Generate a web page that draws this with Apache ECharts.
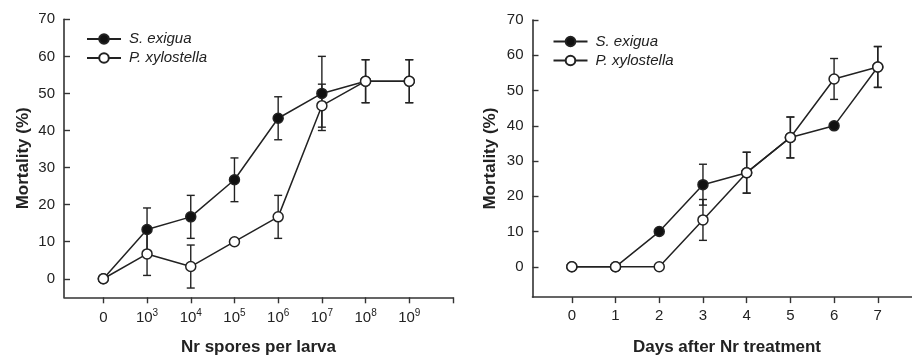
<!DOCTYPE html>
<html>
<head>
<meta charset="utf-8">
<script src="https://cdn.jsdelivr.net/npm/echarts@6/dist/echarts.min.js"></script>
<style>
html,body{margin:0;padding:0;background:#fff;}
#chart{width:912px;height:356px;}
</style>
</head>
<body>
<div id="chart"></div>
<script>
// ---- data ----
var doseExponents = ['', '3', '4', '5', '6', '7', '8', '9']; // tick labels: 0, 10^3 ... 10^9
var dosePositions = [0, 1, 2, 3, 4, 5, 6, 7];
var sExiguaDose = [0, 13.3, 16.7, 26.7, 43.3, 50.0, 53.3, 53.3];
var sExiguaDoseErr = [0, 5.8, 5.8, 5.9, 5.8, 10.0, 5.8, 5.8];
var pXylDose = [0, 6.7, 3.3, 10.0, 16.7, 46.7, 53.3, 53.3];
var pXylDoseErr = [0, 5.8, 5.8, 0, 5.8, 5.8, 5.8, 5.8];

var dayLabels = ['0', '1', '2', '3', '4', '5', '6', '7'];
var days = [0, 1, 2, 3, 4, 5, 6, 7];
var sExiguaDays = [0, 0, 10.0, 23.3, 26.7, 36.7, 40.0, 56.7];
var sExiguaDaysErr = [0, 0, 0, 5.8, 5.8, 5.8, 0, 5.8];
var pXylDays = [0, 0, 0, 13.3, 26.7, 36.7, 53.3, 56.7];
var pXylDaysErr = [0, 0, 0, 5.8, 5.8, 5.8, 5.8, 5.8];

var yTicks = [0, 10, 20, 30, 40, 50, 60, 70];
var seriesNames = ['S. exigua', 'P. xylostella'];

// ---- helpers ----
function pairs(xs, ys) { return xs.map(function (x, i) { return [x, ys[i]]; }); }
function triples(xs, ys, es) { return xs.map(function (x, i) { return [x, ys[i], es[i]]; }); }

var INK = '#222';
var FONT = '"Liberation Sans", Arial, sans-serif';

function errRender(params, api) {
  var x = api.value(0), y = api.value(1), e = api.value(2);
  if (!e) return null;
  var t = api.coord([x, y + e]);
  var b = api.coord([x, y - e]);
  var w = 4;
  var st = { stroke: INK, lineWidth: 1.4 };
  return {
    type: 'group',
    children: [
      { type: 'line', shape: { x1: t[0], y1: t[1], x2: b[0], y2: b[1] }, style: st },
      { type: 'line', shape: { x1: t[0] - w, y1: t[1], x2: t[0] + w, y2: t[1] }, style: st },
      { type: 'line', shape: { x1: b[0] - w, y1: b[1], x2: b[0] + w, y2: b[1] }, style: st }
    ]
  };
}

function makeXAxis(gridIndex, min, max, tickVals, labelVals, formatter, name) {
  return {
    type: 'value', gridIndex: gridIndex, min: min, max: max,
    name: name, nameLocation: 'middle', nameGap: 42,
    nameTextStyle: { fontFamily: FONT, fontWeight: 'bold', fontSize: 17, color: INK },
    axisLine: { show: true, onZero: false, lineStyle: { color: '#333', width: 1.6 } },
    axisTick: { show: true, inside: false, length: 6, customValues: tickVals, lineStyle: { color: '#333', width: 1.4 } },
    axisLabel: {
      customValues: labelVals, margin: 11, fontFamily: FONT, fontSize: 15, color: INK,
      formatter: formatter,
      rich: {
        b: { fontFamily: FONT, fontSize: 15, color: INK, lineHeight: 17, verticalAlign: 'bottom' },
        s: { fontFamily: FONT, fontSize: 10, color: INK, lineHeight: 10, verticalAlign: 'top' }
      }
    },
    splitLine: { show: false }
  };
}

function makeYAxis(gridIndex, min, gap) {
  return {
    type: 'value', gridIndex: gridIndex, min: min, max: 70,
    name: 'Mortality (%)', nameLocation: 'middle', nameGap: gap, nameRotate: 90,
    nameTextStyle: { fontFamily: FONT, fontWeight: 'bold', fontSize: 17, color: INK },
    axisLine: { show: true, onZero: false, lineStyle: { color: '#333', width: 1.6 } },
    axisTick: { show: true, inside: true, length: 6, customValues: yTicks, lineStyle: { color: '#333', width: 1.4 } },
    axisLabel: { customValues: yTicks, margin: 9, fontFamily: FONT, fontSize: 15, color: INK },
    splitLine: { show: false }
  };
}

function lineSeries(name, data, xi, filled, z) {
  return {
    name: name, type: 'line', xAxisIndex: xi, yAxisIndex: xi, data: data,
    symbol: 'circle', symbolSize: 10, showAllSymbol: true, z: z,
    color: INK,
    lineStyle: { color: INK, width: 1.5 },
    itemStyle: { color: filled ? '#111' : '#fff', borderColor: INK, borderWidth: 1.5 },
    emphasis: { disabled: true },
    animation: false
  };
}

function errSeries(data, xi) {
  return {
    type: 'custom', xAxisIndex: xi, yAxisIndex: xi, data: data,
    renderItem: errRender, z: 1, silent: true, animation: false,
    encode: { x: 0, y: 1 }
  };
}

var doseFormatter = function (v) {
  var i = Math.round(v);
  var e = doseExponents[i];
  return e === '' ? '{b|0}' : '{b|10}{s|' + e + '}';
};
var dayFormatter = function (v) { return dayLabels[Math.round(v)]; };

var legendCommon = {
  orient: 'vertical', padding: 0, itemWidth: 34, itemHeight: 12, itemGap: 4,
  data: seriesNames, selectedMode: false,
  textStyle: { fontFamily: FONT, fontStyle: 'italic', fontSize: 15, color: INK, lineHeight: 12, padding: [0, 0, 0, 3] }
};

var option = {
  backgroundColor: '#fff',
  animation: false,
  grid: [
    { left: 64, top: 19.3, width: 389, height: 278, containLabel: false, outerBoundsMode: 'none' },
    { left: 532.5, top: 20.1, width: 389, height: 277, containLabel: false, outerBoundsMode: 'none' }
  ],
  legend: [
    Object.assign({ left: 86, top: 31.5 }, legendCommon),
    Object.assign({ left: 552.5, top: 34 }, legendCommon)
  ],
  xAxis: [
    makeXAxis(0, -0.9, 8, [0, 1, 2, 3, 4, 5, 6, 7, 8], dosePositions, doseFormatter, 'Nr spores per larva'),
    makeXAxis(1, -0.9, 8, [0, 1, 2, 3, 4, 5, 6, 7, 8], days, dayFormatter, 'Days after Nr treatment')
  ],
  yAxis: [
    makeYAxis(0, -5, 32),
    makeYAxis(1, -8.6, 34)
  ],
  series: [
    errSeries(triples(dosePositions, sExiguaDose, sExiguaDoseErr), 0),
    errSeries(triples(dosePositions, pXylDose, pXylDoseErr), 0),
    lineSeries(seriesNames[0], pairs(dosePositions, sExiguaDose), 0, true, 2),
    lineSeries(seriesNames[1], pairs(dosePositions, pXylDose), 0, false, 3),
    errSeries(triples(days, sExiguaDays, sExiguaDaysErr), 1),
    errSeries(triples(days, pXylDays, pXylDaysErr), 1),
    lineSeries(seriesNames[0], pairs(days, sExiguaDays), 1, true, 2),
    lineSeries(seriesNames[1], pairs(days, pXylDays), 1, false, 3)
  ]
};

var chart = echarts.init(document.getElementById('chart'), null, { renderer: 'canvas' });
chart.setOption(option);
</script>
</body>
</html>
